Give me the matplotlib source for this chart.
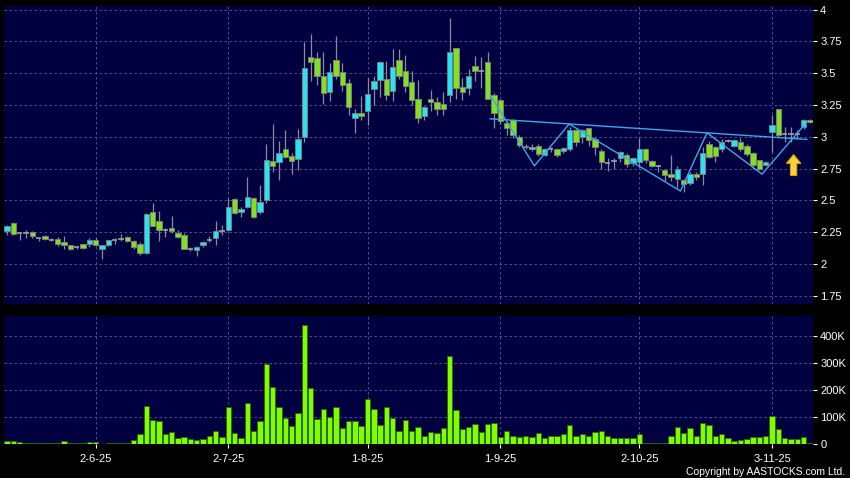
import matplotlib
matplotlib.use('Agg')
import matplotlib.pyplot as plt
from matplotlib.patches import FancyArrow

plt.rcParams['font.family'] = ['Liberation Sans', 'DejaVu Sans']

# daily OHLC, one entry per trading day
opens = [2.26, 2.32, 2.24, 2.24, 2.25, 2.20, 2.22, 2.19, 2.195, 2.175,
         2.145, 2.13, 2.155, 2.155, 2.19, 2.12, 2.15, 2.19, 2.195, 2.215,
         2.18, 2.16, 2.085, 2.41, 2.335, 2.265, 2.285, 2.24, 2.23, 2.12,
         2.11, 2.145, 2.19, 2.20, 2.26, 2.265, 2.51, 2.405, 2.45, 2.515,
         2.405, 2.505, 2.81, 2.805, 2.90, 2.85, 2.825, 2.995, 3.63, 3.62,
         3.48, 3.355, 3.60, 3.505, 3.425, 3.15, 3.19, 3.205, 3.375, 3.445,
         3.45, 3.36, 3.60, 3.52, 3.43, 3.30, 3.165, 3.295, 3.27, 3.26,
         3.325, 3.70, 3.39, 3.38, 3.555, 3.515, 3.59, 3.325, 3.29, 3.105,
         3.135, 3.00, 2.93, 2.90, 2.93, 2.86, 2.905, 2.90, 2.89, 2.90,
         3.055, 3.00, 3.065, 2.98, 2.89, 2.79, 2.81, 2.835, 2.86, 2.79,
         2.80, 2.90, 2.81, 2.77, 2.735, 2.705, 2.67, 2.66, 2.635, 2.705,
         2.705, 2.94, 2.92, 2.905, 2.97, 2.93, 2.96, 2.93, 2.875, 2.815,
         2.775, 3.04, 3.215, 3.02, 3.02, 3.02, 3.075, 3.135]
highs = [2.31, 2.33, 2.245, 2.27, 2.26, 2.21, 2.23, 2.20, 2.21, 2.22,
         2.15, 2.14, 2.16, 2.20, 2.20, 2.15, 2.19, 2.20, 2.235, 2.22,
         2.19, 2.17, 2.40, 2.48, 2.42, 2.28, 2.375, 2.27, 2.24, 2.13,
         2.14, 2.18, 2.22, 2.34, 2.31, 2.52, 2.52, 2.45, 2.685, 2.53,
         2.62, 2.945, 3.10, 2.965, 3.055, 2.87, 3.06, 3.745, 3.805, 3.67,
         3.665, 3.58, 3.795, 3.58, 3.455, 3.22, 3.32, 3.465, 3.475, 3.595,
         3.595, 3.69, 3.69, 3.64, 3.52, 3.445, 3.24, 3.37, 3.31, 3.35,
         3.93, 3.70, 3.46, 3.53, 3.635, 3.63, 3.665, 3.34, 3.30, 3.12,
         3.14, 3.01, 2.945, 2.94, 2.94, 2.91, 2.92, 2.91, 2.92, 3.075,
         3.06, 3.06, 3.07, 3.00, 2.90, 2.83, 2.83, 2.89, 2.87, 2.84,
         2.99, 2.91, 2.82, 2.78, 2.75, 2.855, 2.77, 2.67, 2.72, 2.72,
         2.92, 2.97, 2.93, 2.98, 2.98, 2.98, 2.99, 2.94, 2.88, 2.82,
         2.81, 3.17, 3.22, 3.08, 3.08, 3.05, 3.14, 3.14]
lows = [2.23, 2.23, 2.19, 2.20, 2.20, 2.18, 2.19, 2.18, 2.14, 2.12,
        2.11, 2.115, 2.12, 2.13, 2.14, 2.04, 2.14, 2.16, 2.18, 2.17,
        2.12, 2.07, 2.08, 2.30, 2.18, 2.21, 2.24, 2.20, 2.12, 2.10,
        2.065, 2.13, 2.175, 2.15, 2.23, 2.26, 2.39, 2.37, 2.44, 2.36,
        2.39, 2.48, 2.725, 2.66, 2.83, 2.71, 2.74, 2.955, 3.44, 3.41,
        3.26, 3.28, 3.45, 3.36, 3.17, 3.03, 3.13, 3.095, 3.25, 3.31,
        3.285, 3.28, 3.45, 3.35, 3.25, 3.105, 3.13, 3.20, 3.17, 3.17,
        3.27, 3.30, 3.29, 3.33, 3.44, 3.38, 3.30, 3.065, 3.10, 3.01,
        2.99, 2.92, 2.90, 2.89, 2.85, 2.85, 2.88, 2.84, 2.87, 2.89,
        2.93, 2.95, 2.93, 2.855, 2.75, 2.73, 2.75, 2.80, 2.76, 2.77,
        2.76, 2.79, 2.76, 2.72, 2.65, 2.65, 2.595, 2.565, 2.62, 2.66,
        2.62, 2.83, 2.80, 2.88, 2.96, 2.92, 2.89, 2.85, 2.75, 2.74,
        2.77, 2.88, 3.00, 2.96, 2.96, 2.98, 3.06, 3.11]
closes = [2.30, 2.235, 2.24, 2.24, 2.22, 2.20, 2.195, 2.19, 2.16, 2.145,
          2.12, 2.13, 2.125, 2.19, 2.15, 2.15, 2.19, 2.19, 2.195, 2.18,
          2.13, 2.085, 2.395, 2.30, 2.27, 2.265, 2.255, 2.215, 2.12, 2.12,
          2.135, 2.175, 2.19, 2.255, 2.26, 2.45, 2.40, 2.435, 2.53, 2.37,
          2.485, 2.815, 2.77, 2.875, 2.84, 2.81, 2.985, 3.54, 3.59, 3.48,
          3.34, 3.51, 3.48, 3.405, 3.23, 3.185, 3.165, 3.335, 3.435, 3.585,
          3.33, 3.545, 3.48, 3.40, 3.285, 3.15, 3.23, 3.27, 3.22, 3.22,
          3.665, 3.38, 3.355, 3.48, 3.515, 3.515, 3.30, 3.19, 3.12, 3.065,
          3.01, 2.935, 2.92, 2.92, 2.865, 2.90, 2.905, 2.855, 2.915, 3.05,
          2.96, 3.05, 2.975, 2.92, 2.805, 2.79, 2.81, 2.88, 2.785, 2.83,
          2.90, 2.82, 2.77, 2.77, 2.70, 2.685, 2.745, 2.625, 2.705, 2.68,
          2.875, 2.84, 2.85, 2.96, 2.97, 2.975, 2.90, 2.865, 2.775, 2.75,
          2.80, 3.095, 3.01, 3.02, 3.02, 3.02, 3.13, 3.115]
# volume in thousands of shares
volumes_k = [11, 11, 7, 5, 5, 5, 5, 5, 5, 10,
             5, 5, 2, 9, 9, 1, 5, 5, 5, 5,
             14, 38, 141, 90, 86, 38, 43, 21, 25, 20,
             14, 17, 28, 48, 26, 136, 42, 23, 151, 47,
             86, 295, 212, 135, 95, 65, 115, 438, 206, 91,
             128, 99, 138, 60, 85, 85, 68, 167, 128, 69,
             137, 96, 49, 88, 49, 64, 30, 43, 42, 58,
             326, 125, 54, 63, 73, 43, 73, 79, 27, 49,
             28, 27, 30, 25, 42, 22, 30, 31, 36, 72,
             31, 38, 31, 43, 47, 31, 21, 21, 21, 21,
             37, 2, 5, 2, 2, 30, 63, 41, 59, 30,
             79, 72, 31, 36, 21, 12, 16, 17, 25, 27,
             30, 102, 57, 21, 17, 20, 26, 4]

date_ticks = [14, 35, 57, 78, 100, 121]
date_labels = ['2-6-25', '2-7-25', '1-8-25', '1-9-25', '2-10-25', '3-11-25']
price_ticks = [1.75, 2, 2.25, 2.5, 2.75, 3, 3.25, 3.5, 3.75, 4]
price_labels = ['1.75', '2', '2.25', '2.5', '2.75', '3', '3.25', '3.5', '3.75', '4']
vol_ticks = [0, 100000, 200000, 300000, 400000]
vol_labels = ['0', '100K', '200K', '300K', '400K']

# drawn pattern: neckline and zigzag (day index, price)
neck_x = [76.4, 126.5]
neck_y = [3.141, 2.979]
zig_x = [76.4, 83.4, 88.9, 106.5, 110.7, 119.4, 126.3]
zig_y = [3.327, 2.771, 3.10, 2.573, 3.031, 2.706, 3.104]
arrow_day, arrow_from, arrow_to = 124.4, 2.695, 2.86

BG = '#000040'
UP = '#22e6f6'
DOWN = '#80e21e'
GRID = '#5c5c94'
LINE = '#3fa6ee'

days = list(range(len(closes)))

fig = plt.figure(figsize=(8.5, 4.78), dpi=100, facecolor='black')
ax = fig.add_axes([0.0047, 0.364, 0.952, 0.623], facecolor=BG)
axv = fig.add_axes([0.0047, 0.0711, 0.952, 0.268], facecolor=BG)

# wicks
ax.vlines(days, lows, highs, color='#8a8aa0', linewidth=0.9, zorder=2)

# bodies
for d, o, c in zip(days, opens, closes):
    if c == o:
        ax.hlines(o, d - 0.42, d + 0.42, color='#a0a0a8', linewidth=1.2, zorder=3)
    else:
        col = UP if c > o else DOWN
        ax.bar(d, abs(c - o), bottom=min(o, c), width=0.85, color=col,
               edgecolor='#7c7c7c', linewidth=0.7, zorder=3)

ax.plot(neck_x, neck_y, color=LINE, linewidth=1.0, zorder=4)
ax.plot(zig_x, zig_y, color=LINE, linewidth=1.0, zorder=4)
ax.add_patch(FancyArrow(arrow_day, arrow_from, 0, arrow_to - arrow_from, width=1.0,
                        head_width=2.3, head_length=0.07, length_includes_head=True,
                        fc='#ffd23c', ec='#d89a10', linewidth=0.8, zorder=5))

vols = [v * 1000 for v in volumes_k]
axv.bar(days, vols, width=0.85, color='#7dff00', edgecolor='#2e6400', linewidth=0.6, zorder=3)

for a in (ax, axv):
    a.set_xlim(-0.5, 127.5)
    a.set_xticks(date_ticks)
    a.grid(True, color=GRID, linestyle=(0, (3, 3)), linewidth=0.6, zorder=0)
    a.yaxis.tick_right()
    a.tick_params(axis='y', colors='white', labelsize=8, length=3, width=0.8, pad=2)
    for s in a.spines.values():
        s.set_visible(False)

ax.set_ylim(1.685, 4.026)
ax.set_yticks(price_ticks)
ax.set_yticklabels(price_labels)
ax.tick_params(axis='x', length=0, labelbottom=False)

axv.set_ylim(0, 473000)
axv.set_yticks(vol_ticks)
axv.set_yticklabels(vol_labels)
axv.set_xticklabels(date_labels)
axv.tick_params(axis='x', colors='white', labelsize=8, length=3, width=0.8, pad=4)

fig.text(0.994, 0.003, 'Copyright by AASTOCKS.com Ltd.', color='white', fontsize=7.5,
         ha='right', va='bottom')

fig.savefig('out.png', dpi=100, facecolor='black')
